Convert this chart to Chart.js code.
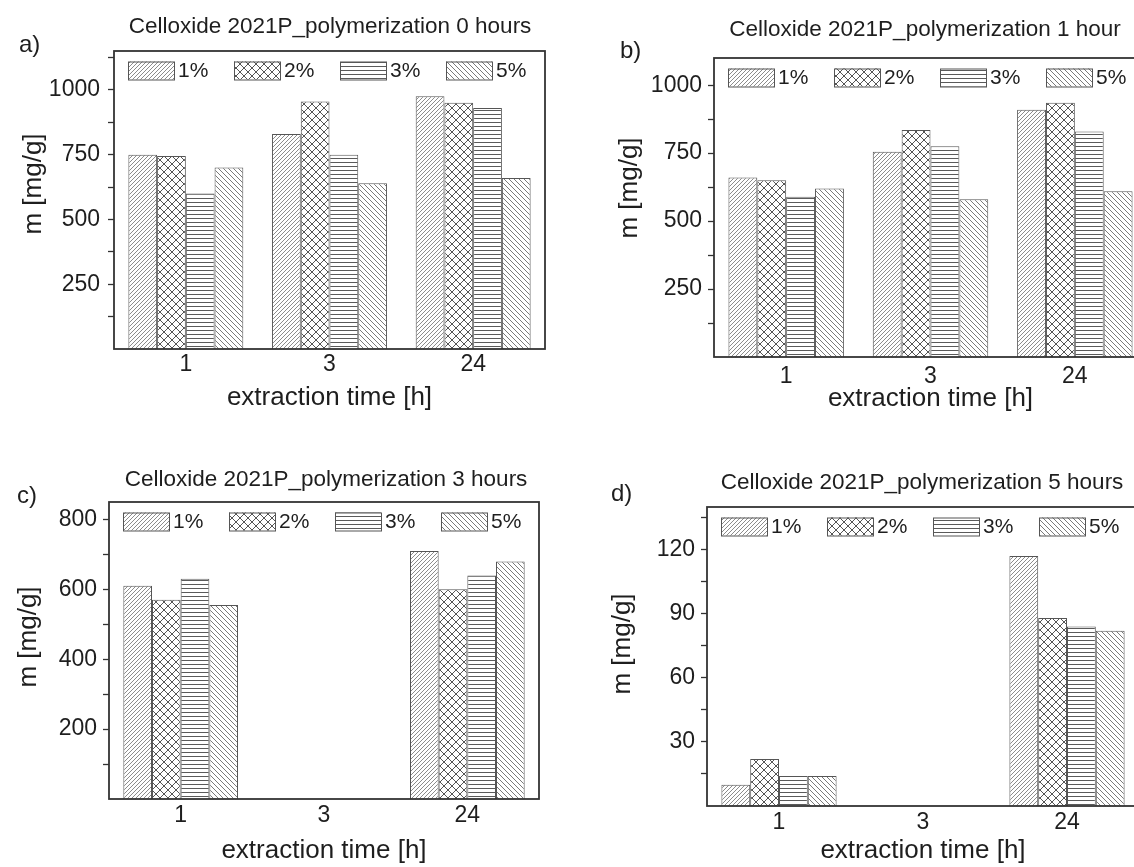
<!DOCTYPE html>
<html>
<head>
<meta charset="utf-8">
<title>Celloxide 2021P</title>
<script src="https://cdn.jsdelivr.net/npm/chart.js@4.4.1/dist/chart.umd.min.js"></script>
<style>
  html, body { margin: 0; padding: 0; background: #fff; overflow: hidden; width: 1134px; height: 867px; }
  .panel { position: absolute; }
</style>
</head>
<body>
<div class="panel" style="left:0;top:0"><canvas id="chart-a" width="567" height="430"></canvas></div>
<div class="panel" style="left:600px;top:0"><canvas id="chart-b" width="567" height="430"></canvas></div>
<div class="panel" style="left:0;top:430px"><canvas id="chart-c" width="567" height="437"></canvas></div>
<div class="panel" style="left:600px;top:430px"><canvas id="chart-d" width="567" height="437"></canvas></div>
<script>
// categories and series
const extractionTimes = ['1', '3', '24'];
const seriesLabels = ['1%', '2%', '3%', '5%'];

// a) polymerization 0 hours
const mass0h_1 = [750, 830, 975];
const mass0h_2 = [745, 955, 950];
const mass0h_3 = [600, 750, 930];
const mass0h_5 = [700, 640, 660];
const ticks0h = [125, 250, 375, 500, 625, 750, 875, 1000, 1125];
const labels0h = [250, 500, 750, 1000];

// b) polymerization 1 hour
const mass1h_1 = [660, 755, 910];
const mass1h_2 = [650, 835, 935];
const mass1h_3 = [590, 775, 830];
const mass1h_5 = [620, 580, 610];
const ticks1h = [125, 250, 375, 500, 625, 750, 875, 1000];
const labels1h = [250, 500, 750, 1000];

// c) polymerization 3 hours (nothing at 3 h)
const mass3h_1 = [610, null, 710];
const mass3h_2 = [570, null, 600];
const mass3h_3 = [630, null, 640];
const mass3h_5 = [555, null, 680];
const ticks3h = [100, 200, 300, 400, 500, 600, 700, 800];
const labels3h = [200, 400, 600, 800];

// d) polymerization 5 hours
const mass5h_1 = [10, null, 117];
const mass5h_2 = [22, null, 88];
const mass5h_3 = [14, null, 84];
const mass5h_5 = [14, null, 82];
const ticks5h = [15, 30, 45, 60, 75, 90, 105, 120, 135];
const labels5h = [30, 60, 90, 120];

const FONT = 'Arial, "Liberation Sans", sans-serif';
const INK = '#1e1e1e';
Chart.defaults.font.family = FONT;

// motifs de hachures façon Origin
function makePattern(kind) {
  const c = document.createElement('canvas');
  const s = { fine: 4, cross: 8, horiz: 4, back: 5 }[kind];
  c.width = s; c.height = s;
  const g = c.getContext('2d');
  g.fillStyle = '#fff';
  g.fillRect(0, 0, s, s);
  g.lineWidth = 1;
  g.beginPath();
  if (kind === 'fine' || kind === 'cross') {
    g.moveTo(0, s); g.lineTo(s, 0);
    g.moveTo(-1, 1); g.lineTo(1, -1);
    g.moveTo(s - 1, s + 1); g.lineTo(s + 1, s - 1);
  }
  if (kind === 'back' || kind === 'cross') {
    g.moveTo(0, 0); g.lineTo(s, s);
    g.moveTo(-1, s - 1); g.lineTo(1, s + 1);
    g.moveTo(s - 1, -1); g.lineTo(s + 1, 1);
  }
  if (kind === 'horiz') {
    g.moveTo(0, 2.5); g.lineTo(s, 2.5);
  }
  g.strokeStyle = { fine: '#8c8c8c', cross: '#555', horiz: '#5a5a5a', back: '#7a7a7a' }[kind];
  g.stroke();
  return g.createPattern(c, 'repeat');
}
const patterns = ['fine', 'cross', 'horiz', 'back'].map(makePattern);

// cadre, légende interne, titres et lettre du panneau
const decorPlugin = {
  id: 'decor',
  afterDatasetsDraw(chart, args, opts) {
    const { ctx, chartArea: ca } = chart;
    ctx.save();
    ctx.strokeStyle = '#333';
    ctx.lineWidth = 1.8;
    ctx.strokeRect(ca.left, ca.top, ca.right - ca.left, ca.bottom - ca.top);

    ctx.font = '21px ' + FONT;
    ctx.textBaseline = 'middle';
    ctx.textAlign = 'left';
    chart.data.datasets.forEach((ds, i) => {
      const x = ca.left + 14 + i * 106;
      const y = ca.top + 10.5;
      ctx.fillStyle = ds.backgroundColor;
      ctx.fillRect(x, y, 46, 18);
      ctx.strokeStyle = '#555';
      ctx.lineWidth = 1;
      ctx.strokeRect(x + 0.5, y + 0.5, 46, 18);
      ctx.fillStyle = INK;
      ctx.fillText(ds.label, x + 50, y + 10);
    });

    ctx.fillStyle = INK;
    ctx.font = '22.5px ' + FONT;
    ctx.textAlign = 'center';
    ctx.fillText(opts.title, opts.titleX, opts.titleY);
    ctx.font = '24px ' + FONT;
    ctx.textAlign = 'left';
    ctx.fillText(opts.letter, opts.letterX, opts.letterY);

    // titre de l'axe y
    ctx.font = '26px ' + FONT;
    ctx.textAlign = 'center';
    ctx.translate(opts.yTitleX, opts.yTitleY);
    ctx.rotate(-Math.PI / 2);
    ctx.fillText('m [mg/g]', 0, 0);
    ctx.restore();
  }
};

function buildChart(id, p) {
  const datasets = seriesLabels.map((label, i) => ({
    label: label,
    data: p.values[i],
    backgroundColor: patterns[i],
    borderColor: '#555',
    borderWidth: 1,
    categoryPercentage: 0.8,
    barPercentage: 1
  }));

  new Chart(document.getElementById(id), {
    type: 'bar',
    data: { labels: extractionTimes, datasets: datasets },
    options: {
      responsive: false,
      animation: false,
      layout: { padding: { top: p.top, right: p.padRight, left: 0, bottom: 0 } },
      plugins: {
        legend: { display: false },
        tooltip: { enabled: false },
        decor: {
          title: p.title, titleX: p.titleX, titleY: p.titleY,
          letter: p.letter, letterX: p.letterX, letterY: p.letterY,
          yTitleX: p.yTitleX, yTitleY: p.yTitleY
        }
      },
      scales: {
        x: {
          grid: { display: false, drawTicks: false },
          border: { display: false },
          ticks: { color: INK, font: { size: 23 }, padding: p.xTickPad, maxRotation: 0, autoSkip: false },
          title: {
            display: true, text: 'extraction time [h]', color: INK,
            font: { size: 26 }, padding: { top: 0, bottom: p.xTitlePad }
          },
          afterFit: s => { s.height = p.xHeight; }
        },
        y: {
          min: 0,
          max: p.yMax,
          afterBuildTicks: s => { s.ticks = p.ticks.map(v => ({ value: v })); },
          grid: { drawOnChartArea: false, tickLength: 6, tickColor: '#333', tickWidth: 1.3 },
          border: { display: false },
          ticks: {
            color: INK, font: { size: 23 }, padding: p.yTickPad, autoSkip: false,
            callback: v => p.labels.includes(v) ? String(v) : ''
          },
          afterFit: s => { s.width = p.yWidth; }
        }
      }
    },
    plugins: [decorPlugin]
  });
}

buildChart('chart-a', {
  values: [mass0h_1, mass0h_2, mass0h_3, mass0h_5],
  ticks: ticks0h, labels: labels0h, yMax: 1150,
  top: 51, padRight: 22, yWidth: 114, xHeight: 81,
  xTickPad: 2, xTitlePad: 17, yTickPad: 8,
  title: 'Celloxide 2021P_polymerization 0 hours', titleX: 330, titleY: 27,
  letter: 'a)', letterX: 19, letterY: 45, yTitleX: 34, yTitleY: 184
});

buildChart('chart-b', {
  values: [mass1h_1, mass1h_2, mass1h_3, mass1h_5],
  ticks: ticks1h, labels: labels1h, yMax: 1100,
  top: 58, padRight: 20, yWidth: 114, xHeight: 73,
  xTickPad: 6, xTitlePad: 16, yTickPad: 6,
  title: 'Celloxide 2021P_polymerization 1 hour', titleX: 325, titleY: 30,
  letter: 'b)', letterX: 20, letterY: 51, yTitleX: 30, yTitleY: 188
});

buildChart('chart-c', {
  values: [mass3h_1, mass3h_2, mass3h_3, mass3h_5],
  ticks: ticks3h, labels: labels3h, yMax: 850,
  top: 72, padRight: 28, yWidth: 109, xHeight: 68,
  xTickPad: 3, xTitlePad: 1, yTickPad: 6,
  title: 'Celloxide 2021P_polymerization 3 hours', titleX: 326, titleY: 50,
  letter: 'c)', letterX: 17, letterY: 66, yTitleX: 29, yTitleY: 207
});

buildChart('chart-d', {
  values: [mass5h_1, mass5h_2, mass5h_3, mass5h_5],
  ticks: ticks5h, labels: labels5h, yMax: 140,
  top: 77, padRight: 28, yWidth: 107, xHeight: 61,
  xTickPad: 3, xTitlePad: 1, yTickPad: 6,
  title: 'Celloxide 2021P_polymerization 5 hours', titleX: 322, titleY: 53,
  letter: 'd)', letterX: 11, letterY: 64, yTitleX: 23, yTitleY: 214
});
</script>
</body>
</html>
